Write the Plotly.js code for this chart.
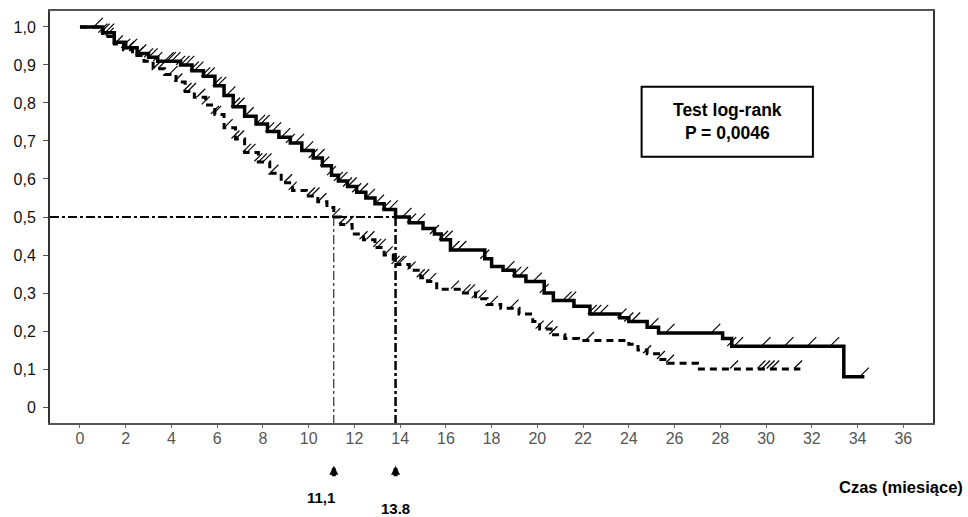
<!DOCTYPE html>
<html>
<head>
<meta charset="utf-8">
<script src="https://cdn.plot.ly/plotly-3.0.1.min.js"></script>
<style>
html,body{margin:0;padding:0;background:#fff;}
#chart{width:968px;height:517px;}
</style>
</head>
<body>
<div id="chart"></div>
<script>
// Solid curve (upper group) step times and survival
var solidT = [0, 1.0, 1.5, 2.0, 2.5, 3.0, 3.4, 4.4, 4.9, 5.4, 5.9, 6.3, 6.7, 7.2, 7.7, 8.2, 8.7, 9.2, 9.7, 10.2, 10.6, 11.0, 11.3, 11.7, 12.1, 12.5, 12.9, 13.3, 13.8, 14.4, 15.0, 15.5, 15.8, 16.2, 17.7, 18.0, 18.5, 19.0, 19.5, 20.3, 20.7, 21.6, 22.3, 23.6, 24.0, 24.8, 25.3, 28.1, 28.5, 33.4, 34.3];
var solidS = [1.0, 0.985, 0.96, 0.945, 0.93, 0.92, 0.91, 0.90, 0.885, 0.87, 0.845, 0.82, 0.79, 0.765, 0.745, 0.725, 0.71, 0.695, 0.675, 0.655, 0.635, 0.61, 0.595, 0.58, 0.565, 0.55, 0.535, 0.52, 0.50, 0.485, 0.47, 0.455, 0.44, 0.413, 0.39, 0.37, 0.36, 0.345, 0.33, 0.30, 0.28, 0.265, 0.245, 0.235, 0.225, 0.21, 0.195, 0.18, 0.16, 0.08, 0.08];
// Dashed curve (lower group)
var dashT = [0, 1.0, 1.5, 1.9, 2.3, 2.8, 3.2, 3.7, 4.2, 4.6, 5.0, 5.5, 5.9, 6.3, 6.8, 7.2, 7.8, 8.3, 8.8, 9.3, 9.9, 10.4, 10.8, 11.1, 11.4, 11.9, 12.4, 12.9, 13.3, 13.7, 14.4, 14.9, 15.2, 15.6, 16.7, 17.3, 17.8, 18.4, 19.2, 19.8, 20.1, 20.6, 21.2, 21.8, 24.0, 24.4, 24.8, 25.3, 25.7, 27.0, 31.5];
var dashS = [1.0, 0.975, 0.955, 0.94, 0.925, 0.91, 0.89, 0.875, 0.855, 0.83, 0.815, 0.795, 0.77, 0.735, 0.705, 0.67, 0.645, 0.615, 0.59, 0.57, 0.555, 0.54, 0.525, 0.50, 0.48, 0.455, 0.44, 0.42, 0.40, 0.375, 0.36, 0.34, 0.33, 0.31, 0.30, 0.285, 0.27, 0.26, 0.245, 0.225, 0.205, 0.19, 0.18, 0.175, 0.165, 0.15, 0.14, 0.125, 0.115, 0.10, 0.10];
// Censoring times
var solidCens = [0.8, 1.0, 1.1, 1.3, 2.0, 2.3, 2.7, 3.0, 3.2, 3.4, 3.9, 4.0, 4.2, 4.4, 4.6, 4.8, 5.0, 5.2, 5.5, 5.7, 6.0, 6.2, 6.6, 6.8, 7.0, 7.4, 7.9, 8.1, 8.3, 8.6, 9.0, 9.2, 9.6, 10.0, 10.2, 10.5, 10.7, 11.0, 11.3, 11.5, 11.7, 11.9, 12.1, 12.4, 12.7, 13.1, 13.4, 13.7, 14.3, 14.5, 14.9, 15.5, 15.9, 16.1, 16.4, 16.7, 17.7, 18.8, 19.1, 19.4, 20.0, 20.3, 21.3, 21.5, 22.4, 22.6, 22.9, 23.7, 24.0, 24.3, 25.1, 25.8, 27.8, 28.5, 28.8, 30.0, 31.0, 32.0, 33.0, 34.3];
var dashCens = [1.3, 1.7, 2.2, 2.6, 3.4, 3.6, 4.1, 4.3, 4.7, 4.9, 5.3, 5.5, 5.9, 6.0, 6.5, 6.8, 7.0, 7.3, 7.5, 7.8, 8.0, 8.2, 8.5, 9.1, 9.3, 10.1, 10.3, 10.6, 11.2, 11.5, 11.8, 12.4, 12.7, 13.0, 13.2, 13.5, 13.8, 14.0, 14.1, 14.5, 14.9, 15.1, 15.4, 16.4, 16.9, 17.1, 17.3, 17.6, 18.1, 19.0, 20.1, 20.5, 20.7, 22.3, 24.8, 25.4, 25.8, 28.6, 29.8, 30.0, 30.2, 30.4, 31.4];
// Medians
var medians = [11.1, 13.8];
var medianLabels = ['11,1', '13.8'];
var xTicks = [0,2,4,6,8,10,12,14,16,18,20,22,24,26,28,30,32,34,36];
var yTicks = [0,0.1,0.2,0.3,0.4,0.5,0.6,0.7,0.8,0.9,1.0];
var yTickText = ['0','0,1','0,2','0,3','0,4','0,5','0,6','0,7','0,8','0,9','1,0'];

function stepAt(T, S, t) {
  var v = S[0];
  for (var i = 0; i < T.length; i++) { if (T[i] <= t) v = S[i]; }
  return v;
}
var yRange = [-0.042, 1.042];
var xRange = [-1.31, 37.3];
var shift = 0.012;

var traces = [
  {x: solidT, y: solidS, mode: 'lines', line: {shape: 'hv', color: '#000', width: 3.5}, hoverinfo: 'skip'},
  {x: dashT, y: dashS, mode: 'lines', line: {shape: 'hv', color: '#000', width: 3, dash: '7px,5px'}, hoverinfo: 'skip'},
  {x: solidCens, y: solidCens.map(function(t){return stepAt(solidT, solidS, t);}), yaxis: 'y2', mode: 'markers',
   marker: {symbol: 'line-ne', size: 9, line: {color: '#000', width: 1.2}}, hoverinfo: 'skip'},
  {x: dashCens, y: dashCens.map(function(t){return stepAt(dashT, dashS, t);}), yaxis: 'y2', mode: 'markers',
   marker: {symbol: 'line-ne', size: 8, line: {color: '#000', width: 1.2}}, hoverinfo: 'skip'}
];

var shapes = [
  {type: 'line', xref: 'x', yref: 'y', x0: xRange[0], x1: medians[1], y0: 0.5, y1: 0.5, line: {color: '#000', width: 2, dash: 'dashdot'}},
  {type: 'line', xref: 'x', yref: 'y', x0: medians[0], x1: medians[0], y0: 0.5, y1: yRange[0], line: {color: '#000', width: 1, dash: 'dashdot'}},
  {type: 'line', xref: 'x', yref: 'y', x0: medians[1], x1: medians[1], y0: 0.5, y1: yRange[0], line: {color: '#000', width: 2.5, dash: 'dashdot'}},
  {type: 'rect', xref: 'paper', yref: 'paper', x0: 0.670, x1: 0.864, y0: 0.646, y1: 0.816, line: {color: '#000', width: 2}, fillcolor: 'rgba(0,0,0,0)'}
];

var fam = 'Liberation Sans, Arial, sans-serif';
var bold = {family: fam, size: 16.5, color: '#000'};
var annotations = [
  {xref: 'paper', yref: 'paper', x: 0.767, y: 0.731, text: '<b>Test log-rank</b><br><b>P = 0,0046</b>', showarrow: false,
   font: {family: fam, size: 17.5, color: '#000'}, align: 'center', xanchor: 'center', yanchor: 'middle'},
  {xref: 'paper', yref: 'paper', x: 1.036, y: -0.155, text: '<b>Czas (miesiące)</b>', showarrow: false, xanchor: 'right', yanchor: 'middle', font: bold},
  {xref: 'x', yref: 'paper', x: medians[0], y: -0.18, xshift: -13, text: '<b>' + medianLabels[0] + '</b>', showarrow: false, xanchor: 'center', yanchor: 'middle', font: {family: fam, size: 15, color: '#000'}},
  {xref: 'x', yref: 'paper', x: medians[1], y: -0.208, text: '<b>' + medianLabels[1] + '</b>', showarrow: false, xanchor: 'center', yanchor: 'middle', font: {family: fam, size: 15, color: '#000'}}
];
medians.forEach(function(m){
  annotations.push({xref: 'x', yref: 'paper', x: m, y: -0.104, ax: 0, ay: 12, text: '', showarrow: true,
    arrowhead: 2, arrowsize: 0.45, arrowwidth: 4, arrowcolor: '#000'});
});

var layout = {
  width: 968, height: 517,
  margin: {l: 50, r: 35, t: 11, b: 94},
  paper_bgcolor: '#fff', plot_bgcolor: '#fff',
  showlegend: false,
  xaxis: {range: xRange, tickvals: xTicks, ticks: 'outside', ticklen: 3, tickcolor: '#666', ticklabelstandoff: -3,
    showgrid: false, zeroline: false, showline: true, linecolor: '#555', linewidth: 2, mirror: true,
    tickfont: {family: 'Liberation Sans Narrow, Liberation Sans, Arial, sans-serif', size: 16, color: '#555'}},
  yaxis: {range: yRange, tickvals: yTicks, ticktext: yTickText, ticks: 'outside', ticklen: 5, tickcolor: '#555', ticklabelstandoff: 4,
    showgrid: false, zeroline: false, showline: true, linecolor: '#333', linewidth: 2, mirror: true,
    tickfont: {family: fam, size: 16, color: '#111'}},
  yaxis2: {range: [yRange[0] - shift, yRange[1] - shift], overlaying: 'y', visible: false, showgrid: false, zeroline: false},
  shapes: shapes,
  annotations: annotations
};

Plotly.newPlot('chart', traces, layout, {displayModeBar: false, staticPlot: true});
</script>
</body>
</html>
